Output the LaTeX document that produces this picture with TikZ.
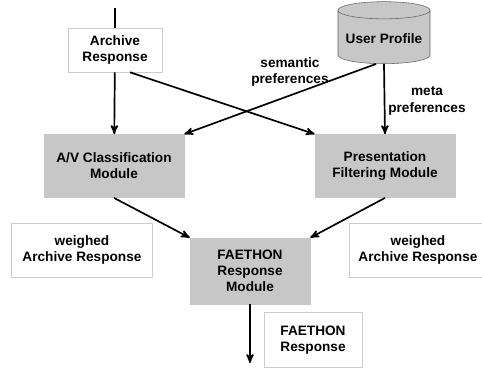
\documentclass[tikz,border=0pt]{standalone}
\usepackage{fontspec}
\setmainfont{Liberation Sans}
\usetikzlibrary{arrows,shapes}

\begin{document}
\begin{tikzpicture}[->,>=stealth',line width=1.2pt,x=0.025cm,y=-0.025cm,font=\fontsize{9.7}{11.5}\selectfont\bfseries]
  \tikzstyle{module}=[fill=black!22,draw=black!22,thin,align=center,minimum width=3.5cm,minimum height=1.58cm]
  \tikzstyle{label box}=[fill=white,draw=black!20,thin,align=center]
  \useasboundingbox (0,0) rectangle (482,370);

  \node[label box,minimum width=2.35cm,minimum height=1.1cm] (ar) at (115,50) {Archive\\Response};
  \node[cylinder,shape border rotate=90,aspect=0.2,draw=black!60,thin,fill=black!22,minimum width=2.3cm,minimum height=1.55cm] (up) at (384,39) {User Profile};
  \node[module] (av) at (114,166) {A/V Classification\\Module};
  \node[module] (pf) at (385,166) {Presentation\\Filtering Module};
  \node[module,minimum width=3cm,minimum height=1.65cm] (fr) at (250,271) {FAETHON\\Response\\Module};
  \node[label box,minimum width=3.52cm,minimum height=1.35cm] (wl) at (82,250) {weighed\\Archive Response};
  \node[label box,minimum width=3.42cm,minimum height=1.35cm] (wr) at (418,250) {weighed\\Archive Response};
  \node[label box,minimum width=2.45cm,minimum height=1.38cm] (fo) at (313,340) {FAETHON\\Response};
  \node[align=center] (sem) at (290,72) {semantic\\preferences};
  \node[align=center] (meta) at (427,101) {meta\\preferences};
  \coordinate (in) at (115,8);
  \coordinate (out) at (250,363);

  \draw[-] (in) -- (ar);
  \draw (ar) -- (av);
  \draw ([xshift=0.375cm]ar.south) -- (pf.north west);
  \draw ([xshift=-0.2cm]up.south) -- (av.north east);
  \draw (up.south) -- (pf.north);
  \draw (av.south) -- (fr.north west);
  \draw (pf.south) -- (fr.north east);
  \draw (fr) -- (out);
\end{tikzpicture}
\end{document}
